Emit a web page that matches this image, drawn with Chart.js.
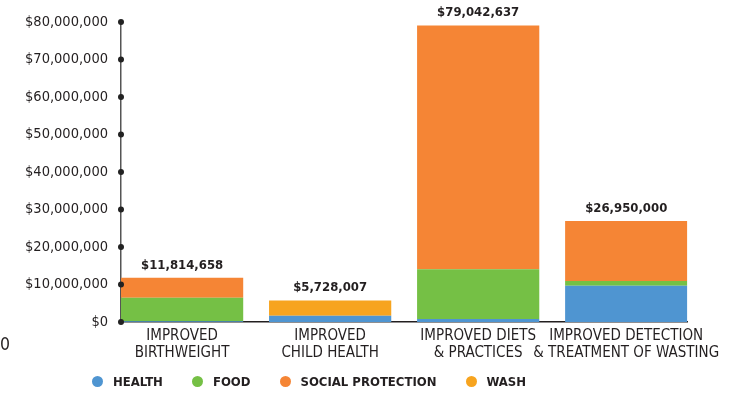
<!DOCTYPE html>
<html>
<head>
<meta charset="utf-8">
<script src="https://cdn.jsdelivr.net/npm/chart.js@4.4.1/dist/chart.umd.min.js"></script>
<style>
  html, body { margin: 0; padding: 0; background: #fff; }
  #wrap { position: relative; width: 729px; height: 395px; }
  #legend { position: absolute; left: 92px; top: 374px; display: flex; align-items: center;
    font-family: 'Liberation Sans Narrow', 'DejaVu Sans Condensed', sans-serif; font-weight: bold; font-size: 13px; color: #231f20; }
  #legend .item { display: flex; align-items: center; margin-right: 29px; }
  #legend .dot { width: 11px; height: 11px; border-radius: 50%; margin-right: 10px; }
  #stray { position: absolute; left: 0px; top: 334px; font-family: 'Liberation Sans Narrow', 'DejaVu Sans Condensed', sans-serif; font-size: 17.5px; color: #231f20; }
</style>
</head>
<body>
<div id="wrap">
  <canvas id="grafico" width="729" height="395"></canvas>
  <div id="legend"></div>
  <div id="stray">0</div>
</div>
<script>
const FONTE = "'Liberation Sans Narrow', 'DejaVu Sans Condensed', sans-serif";

// categorias do eixo x (duas linhas cada)
const categorias = [
    ['IMPROVED', 'BIRTHWEIGHT'],
    ['IMPROVED', 'CHILD HEALTH'],
    ['IMPROVED DIETS', '& PRACTICES'],
    ['IMPROVED DETECTION', '& TREATMENT OF WASTING']
];

// valores por série (US$)
const health = [200000, 1700000, 800000, 9680000];
const food = [6300000, 0, 13250000, 1250000];
const socialProtection = [5314658, 0, 64992637, 16020000];
const wash = [0, 4028007, 0, 0];

// totais mostrados acima das barras
const totais = [11814658, 5728007, 79042637, 26950000];

const series = [
    { nome: 'HEALTH', valores: health, cor: '#4f95d1' },
    { nome: 'FOOD', valores: food, cor: '#75c045' },
    { nome: 'SOCIAL PROTECTION', valores: socialProtection, cor: '#f58535' },
    { nome: 'WASH', valores: wash, cor: '#f7a41f' }
];

function dinheiro(v) {
    return '$' + Number(v).toLocaleString('en-US');
}

// pontinhos nas marcas do eixo y
const pontosEixo = {
    id: 'pontosEixo',
    afterDraw(chart) {
        const y = chart.scales.y;
        const ctx = chart.ctx;
        ctx.save();
        ctx.fillStyle = '#222';
        y.ticks.forEach(function(t) {
            ctx.beginPath();
            ctx.arc(y.right, y.getPixelForValue(t.value), 3, 0, Math.PI * 2);
            ctx.fill();
        });
        ctx.restore();
    }
};

// totais acima de cada barra
const rotulosTotais = {
    id: 'rotulosTotais',
    afterDatasetsDraw(chart) {
        const ctx = chart.ctx;
        ctx.save();
        ctx.font = 'bold 13px ' + FONTE;
        ctx.fillStyle = '#231f20';
        ctx.textAlign = 'center';
        ctx.textBaseline = 'bottom';
        totais.forEach(function(t, i) {
            const x = chart.scales.x.getPixelForValue(i);
            const y = chart.scales.y.getPixelForValue(t);
            ctx.fillText(dinheiro(t), x, y - 6);
        });
        ctx.restore();
    }
};

const ctx = document.getElementById('grafico').getContext('2d');
const myChart = new Chart(ctx, {
    type: 'bar',
    data: {
        datasets: series.map(function(s) {
            return {
                label: s.nome,
                data: s.valores.map(function(v, i) { return { x: i, y: v }; }),
                backgroundColor: s.cor,
                borderWidth: 0,
                barPercentage: 123 / 149,
                categoryPercentage: 1
            };
        })
    },
    options: {
        responsive: false,
        animation: false,
        layout: { padding: { top: 22, right: 36, bottom: 0, left: 0 } },
        plugins: {
            legend: { display: false },
            tooltip: { enabled: false }
        },
        scales: {
            x: {
                type: 'linear',
                stacked: true,
                offset: false,
                min: -0.4128,
                max: 3.4128,
                afterBuildTicks: function(scale) {
                    scale.ticks = categorias.map(function(c, i) { return { value: i }; });
                },
                afterFit: function(scale) { scale.height = 73; },
                grid: { display: false, drawTicks: false },
                border: { display: true, color: '#231f20', width: 1.5 },
                ticks: {
                    autoSkip: false,
                    maxRotation: 0,
                    padding: 6,
                    color: '#231f20',
                    font: { family: FONTE, size: 15, lineHeight: 1.1 },
                    callback: function(v) { return categorias[v]; }
                }
            },
            y: {
                stacked: true,
                min: 0,
                max: 80000000,
                afterFit: function(scale) { scale.width = 121; },
                grid: { display: false, drawTicks: false },
                border: { display: true, color: '#555', width: 1.5 },
                ticks: {
                    stepSize: 10000000,
                    padding: 13,
                    color: '#231f20',
                    font: { family: FONTE, size: 14.5 },
                    callback: function(v) { return dinheiro(v); }
                }
            }
        }
    },
    plugins: [pontosEixo, rotulosTotais]
});

// legenda em html
const legenda = document.getElementById('legend');
series.forEach(function(s) {
    const item = document.createElement('div');
    item.className = 'item';
    item.innerHTML = '<span class="dot" style="background:' + s.cor + '"></span>' + s.nome;
    legenda.appendChild(item);
});
</script>
</body>
</html>
